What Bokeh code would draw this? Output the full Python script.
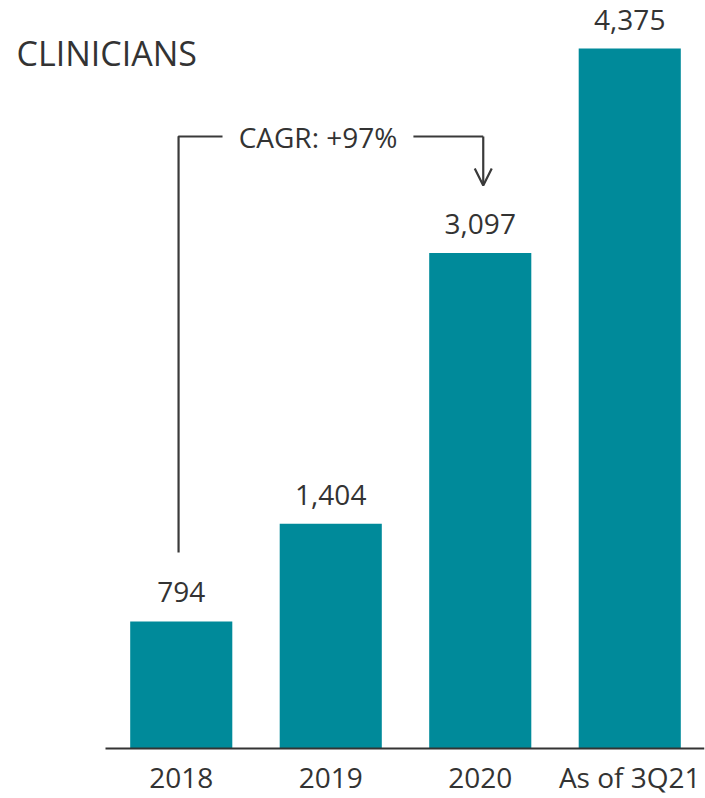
from bokeh.plotting import figure
from bokeh.models import Range1d, FixedTicker, Arrow, OpenHead, ColumnDataSource, Label
from bokeh.core.properties import value
from bokeh.embed import file_html
from bokeh.resources import INLINE

categories = ["2018", "2019", "2020", "As of 3Q21"]
clinicians = [794, 1404, 3097, 4375]
value_labels = ["794", "1,404", "3,097", "4,375"]
title_text = "CLINICIANS"
cagr_text = "CAGR: +97%"

BAR = "#008A9A"
INK = "#333333"
FONT = "Open Sans"

xs = list(range(len(categories)))
src = ColumnDataSource(dict(x=xs, top=clinicians, lab=value_labels))

# frame spans the full width; plot area of the bars is -0.5..3.5
left_pad = 106 / 149.5
p = figure(width=705, height=798, output_backend="svg", toolbar_location=None,
           x_range=Range1d(-0.5 - left_pad, 3.5), y_range=Range1d(-12.5, 4675),
           min_border_left=0, min_border_right=1, min_border_top=0, min_border_bottom=48)
p.outline_line_color = None
p.xgrid.visible = False
p.ygrid.visible = False
p.yaxis.visible = False
p.background_fill_color = "white"
p.border_fill_color = "white"

p.vbar(x="x", top="top", width=0.683, bottom=0, source=src, fill_color=BAR, line_color=None)
p.text(x="x", y="top", text="lab", source=src, text_align="center", text_baseline="middle",
       y_offset=-29, text_font=value(FONT), text_font_size="28px", text_color=INK)

# baseline
p.line(x=[-0.5 - 1 / 149.5, 3.5], y=[0, 0], line_color=INK, line_width=2)

ax = p.xaxis[0]
ax.ticker = FixedTicker(ticks=xs)
ax.major_label_overrides = {i: c for i, c in enumerate(categories)}
ax.axis_line_color = None
ax.major_tick_line_color = None
ax.minor_tick_line_color = None
ax.major_label_text_font = FONT
ax.major_label_text_font_size = "28px"
ax.major_label_text_color = INK
ax.major_label_standoff = 1

# CAGR bracket (2018 -> 2020)
lc = "#3a3a3a"
bx0, by0, btop = -0.018, 1225, 3825
p.line(x=[bx0, bx0, 0.276], y=[by0, btop, btop], line_color=lc, line_width=2.2)
p.line(x=[1.553, 2.02], y=[btop, btop], line_color=lc, line_width=2.2)
p.add_layout(Arrow(end=OpenHead(size=17, line_color=lc, line_width=2.2), x_start=2.02, y_start=btop,
                   x_end=2.02, y_end=3519, line_color=lc, line_width=2.2))
p.add_layout(Label(x=0.915, y=btop, text=cagr_text, text_align="center", text_baseline="middle",
                   text_font=FONT, text_font_size="28px", text_color=INK))

p.add_layout(Label(x=16, y=698, x_units="screen", y_units="screen", text=title_text,
                   text_align="left", text_baseline="middle", text_font=FONT,
                   text_font_size="34px", text_color=INK))

open("out.html", "w").write(file_html(p, INLINE))
